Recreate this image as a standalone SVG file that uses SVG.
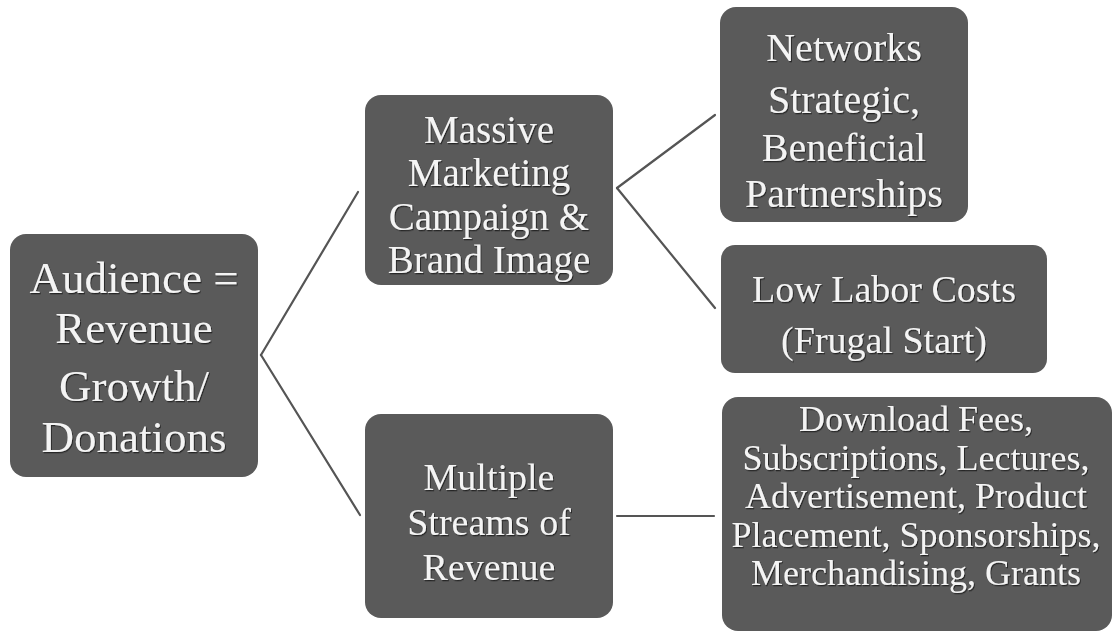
<svg xmlns="http://www.w3.org/2000/svg" width="1117" height="634" viewBox="0 0 1117 634">
<defs>
<filter id="sh" x="-10%" y="-10%" width="120%" height="130%">
<feDropShadow dx="1" dy="1.2" stdDeviation="0.6" flood-color="#1a1a1a" flood-opacity="0.8"/>
</filter>
</defs>
<style>
.box{fill:#5a5a5a;}
.t{font-family:"Liberation Serif","Times New Roman",serif;fill:#f4f4f4;text-anchor:middle;filter:url(#sh);}
.c{stroke:#555555;stroke-width:2.2;fill:none;stroke-linecap:round;}
</style>
<rect width="1117" height="634" fill="#ffffff"/>
<g id="connectors">
<line class="c" x1="261" y1="355" x2="358" y2="192"/>
<line class="c" x1="261" y1="355" x2="360" y2="515"/>
<line class="c" x1="617" y1="188" x2="715" y2="115"/>
<line class="c" x1="617" y1="188" x2="715" y2="308"/>
<line class="c" x1="617" y1="516" x2="714" y2="516"/>
</g>
<g id="audience">
<rect class="box" x="10" y="234" width="248" height="243" rx="16"/>
<text class="t" font-size="45" x="134"><tspan x="134" y="293">Audience =</tspan><tspan x="134" y="343">Revenue</tspan><tspan x="134" y="401">Growth/</tspan><tspan x="134" y="452">Donations</tspan></text>
</g>
<g id="marketing">
<rect class="box" x="365" y="95" width="248" height="190" rx="16"/>
<text class="t" font-size="39" x="489"><tspan x="489" y="143">Massive</tspan><tspan x="489" y="186">Marketing</tspan><tspan x="489" y="230">Campaign &amp;</tspan><tspan x="489" y="273">Brand Image</tspan></text>
</g>
<g id="networks">
<rect class="box" x="720" y="7" width="248" height="215" rx="16"/>
<text class="t" font-size="40" x="844"><tspan x="844" y="61">Networks</tspan><tspan x="844" y="113">Strategic,</tspan><tspan x="844" y="161">Beneficial</tspan><tspan x="844" y="207">Partnerships</tspan></text>
</g>
<g id="labor">
<rect class="box" x="721" y="245" width="326" height="128" rx="14"/>
<text class="t" font-size="38" x="884"><tspan x="884" y="302">Low Labor Costs</tspan><tspan x="884" y="353">(Frugal Start)</tspan></text>
</g>
<g id="streams">
<rect class="box" x="365" y="414" width="248" height="204" rx="16"/>
<text class="t" font-size="38" x="489"><tspan x="489" y="490">Multiple</tspan><tspan x="489" y="535">Streams of</tspan><tspan x="489" y="580">Revenue</tspan></text>
</g>
<g id="revenue-list">
<rect class="box" x="722" y="397" width="390" height="234" rx="16"/>
<text class="t" font-size="36" x="916"><tspan x="916" y="431">Download Fees,</tspan><tspan x="916" y="470">Subscriptions, Lectures,</tspan><tspan x="916" y="508">Advertisement, Product</tspan><tspan x="916" y="547">Placement, Sponsorships,</tspan><tspan x="916" y="585">Merchandising, Grants</tspan></text>
</g>
</svg>
